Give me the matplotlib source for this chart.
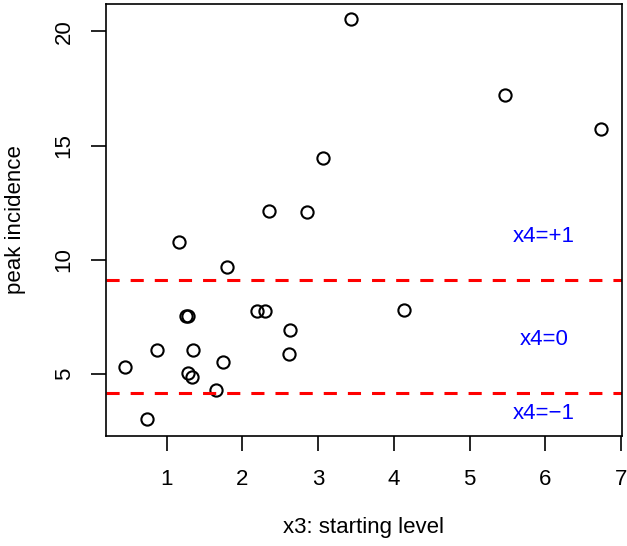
import matplotlib
matplotlib.use("Agg")
import matplotlib.pyplot as plt

# starting level (x3) and peak incidence
x3 = [0.45, 0.74, 0.88, 1.16, 1.25, 1.28, 1.28, 1.34, 1.35, 1.65, 1.74, 1.80,
      2.19, 2.30, 2.35, 2.85, 2.63, 2.62, 3.44, 3.07, 5.47, 6.73, 4.13]
peak = [5.29, 3.02, 6.03, 10.78, 7.52, 7.52, 5.02, 4.86, 6.03, 4.31, 5.51, 9.67,
        7.75, 7.75, 12.12, 12.08, 6.91, 5.88, 20.54, 14.44, 17.21, 15.71, 7.80]

cut_levels = [9.10, 4.15]
group_labels = ["x4=+1", "x4=0", "x4=\u22121"]
label_x = 5.98
label_y = [11.0, 6.5, 3.25]

plt.rcParams['font.family'] = ['Liberation Sans', 'DejaVu Sans']

fig = plt.figure(figsize=(6.27, 5.46), dpi=100)
ax = fig.add_axes([0.169, 0.2015, 0.823, 0.7912])

ax.plot(x3, peak, 'o', mfc='none', mec='black', ms=8.8, mew=1.5)
ax.set_xlim(0.2, 7.01)
ax.set_ylim(2.28, 21.2)

for lvl in cut_levels:
    ax.axhline(lvl, color='red', lw=2.2, dashes=(4.3, 3.6))

for lab, yy in zip(group_labels, label_y):
    ax.text(label_x, yy, lab, color='blue', fontsize=16, ha='center', va='center')

ax.set_xticks([1, 2, 3, 4, 5, 6, 7])
ax.set_yticks([5, 10, 15, 20])
ax.tick_params(length=10.5, width=1.2, labelsize=16)
ax.tick_params(axis='x', pad=13)
ax.tick_params(axis='y', pad=12)
for lab in ax.get_yticklabels():
    lab.set_rotation(90)
    lab.set_va('center')

for s in ax.spines.values():
    s.set_linewidth(1.2)

ax.set_xlabel('x3: starting level', fontsize=16, labelpad=20)
ax.set_ylabel('peak incidence', fontsize=16, labelpad=20)

fig.savefig('out.png', dpi=100)
